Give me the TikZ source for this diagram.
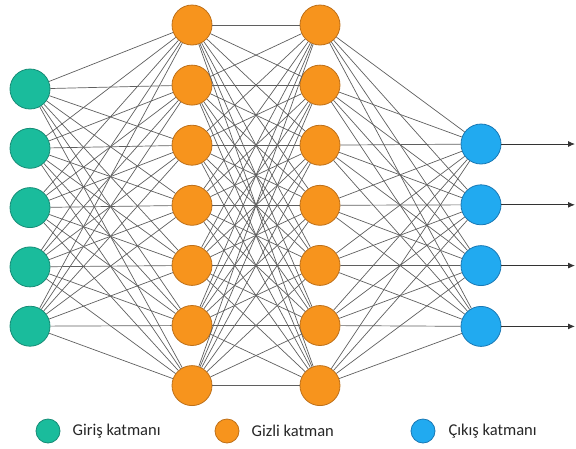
\documentclass[tikz,border=0pt]{standalone}
\usepackage{fontspec}
\setmainfont{Carlito}
\usepackage{tikz}
\usetikzlibrary{arrows.meta,shapes,positioning}
\usepackage{xcolor}
\definecolor{nnteal}{RGB}{26,188,156}
\definecolor{nntealdark}{RGB}{22,140,118}
\definecolor{nnorange}{RGB}{247,148,29}
\definecolor{nnorangedark}{RGB}{190,112,25}
\definecolor{nnblue}{RGB}{33,170,240}
\definecolor{nnbluedark}{RGB}{25,120,180}
\definecolor{nngray}{RGB}{95,95,95}
\tikzstyle{arrow} = [line width=0.9pt,-{Latex[length=7pt,width=6pt]},color=black!80]
\tikzstyle{edge} = [line width=0.7pt, color=nngray]
\tikzstyle{inneuron} = [circle, minimum size=40pt, inner sep=0pt, draw=nntealdark, fill=nnteal, line width=0.8pt]
\tikzstyle{hidneuron} = [circle, minimum size=40pt, inner sep=0pt, draw=nnorangedark, fill=nnorange, line width=0.8pt]
\tikzstyle{outneuron} = [circle, minimum size=40pt, inner sep=0pt, draw=nnbluedark, fill=nnblue, line width=0.8pt]
\tikzstyle{legenddot} = [circle, minimum size=24pt, inner sep=0pt, line width=0.8pt]
\tikzstyle{legendtext} = [anchor=west, inner sep=0pt, font=\fontsize{16.5}{19}\selectfont, text=black!85]

\begin{document}
\begin{tikzpicture}[x=1pt, y=-1pt]
\useasboundingbox (0,0) rectangle (576,448);
% Input layer
\node (in1) [inneuron] at (30,89) {};
\node (in2) [inneuron, below=18.5pt of in1] {};
\node (in3) [inneuron, below=18.5pt of in2] {};
\node (in4) [inneuron, below=18.5pt of in3] {};
\node (in5) [inneuron, below=18.5pt of in4] {};

% Hidden layers
\foreach \col/\x in {a/192, b/320} {
  \node (h\col1) [hidneuron] at (\x,25) {};
  \foreach \i [count=\j from 2] in {1,...,6}
    \node (h\col\j) [hidneuron, below=19.3pt of h\col\i] {};
}

% Output layer
\node (out1) [outneuron] at (481,144) {};
\node (out2) [outneuron, below=20pt of out1] {};
\node (out3) [outneuron, below=20pt of out2] {};
\node (out4) [outneuron, below=20pt of out3] {};

% Connections
\foreach \i in {1,...,5}
  \foreach \j in {1,...,7}
    \draw[edge] (in\i) -- (ha\j);
\foreach \i in {1,...,7}
  \foreach \j in {1,...,7}
    \draw[edge] (ha\i) -- (hb\j);
\foreach \i in {1,...,7}
  \foreach \j in {1,...,4}
    \draw[edge] (hb\i) -- (out\j);

% Outputs
\foreach \j in {1,...,4} {
  \coordinate (end\j) at ([xshift=94pt]out\j.center);
  \draw[arrow] (out\j) -- (end\j);
}

% Legend
\node (lgin) [legenddot, draw=nntealdark, fill=nnteal] at (48,431) {};
\node (lgintxt) [legendtext, right=12pt of lgin] {Giriş katmanı};
\node (lghid) [legenddot, draw=nnorangedark, fill=nnorange] at (227,431) {};
\node (lghidtxt) [legendtext, right=12pt of lghid] {Gizli katman};
\node (lgout) [legenddot, draw=nnbluedark, fill=nnblue] at (423,431) {};
\node (lgouttxt) [legendtext, right=13pt of lgout] {Çıkış katmanı};
\end{tikzpicture}
\end{document}
